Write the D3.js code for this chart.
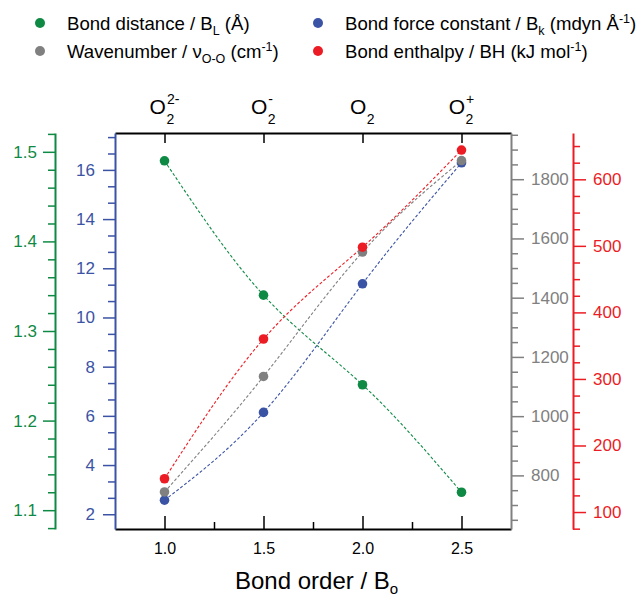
<!DOCTYPE html>
<html>
<head>
<meta charset="utf-8">
<script src="https://cdn.jsdelivr.net/npm/d3@7"></script>
<style>
  html, body { margin: 0; padding: 0; background: #fff; }
  svg { display: block; font-family: "Liberation Sans", Arial, sans-serif; }
</style>
</head>
<body>
<svg id="chart" width="640" height="599"></svg>
<script>
// ---- data ----
const bondOrder = [1.0, 1.5, 2.0, 2.5];
const speciesBase = ["O", "O", "O", "O"];
const speciesSub = ["2", "2", "2", "2"];
const speciesSup = ["2-", "-", "", "+"];
const bondDistance = [1.49, 1.34, 1.24, 1.12];      // Å
const forceConstant = [2.57, 6.14, 11.37, 16.29];   // mdyn/Å
const wavenumber = [744, 1134, 1554, 1863];         // cm-1
const bondEnthalpy = [150, 360, 498, 644];          // kJ/mol

const xTicks = [1.0, 1.5, 2.0, 2.5];
const xMinor = [1.25, 1.75, 2.25];
const greenTicks = [1.1, 1.2, 1.3, 1.4, 1.5];
const blueTicks = [2, 4, 6, 8, 10, 12, 14, 16];
const greyTicks = [800, 1000, 1200, 1400, 1600, 1800];
const redTicks = [100, 200, 300, 400, 500, 600];

const C = { green: "#0f8a45", blue: "#3b53a4", grey: "#808080", red: "#ec1c24", black: "#000" };

const svg = d3.select("#chart");
const L = 115, R = 511, T = 133, B = 529;

const x = d3.scaleLinear().domain([0.75, 2.75]).range([L, R]);
const yGreen = d3.scaleLinear().domain([1.079, 1.521]).range([B, T]);
const yBlue = d3.scaleLinear().domain([1.4, 17.5]).range([B, T]);
const yGrey = d3.scaleLinear().domain([619, 1956]).range([B, T]);
const yRed = d3.scaleLinear().domain([74.5, 669.6]).range([B, T]);

function range(a, b, step) { const out = []; for (let v = a; v <= b + 1e-9; v += step) out.push(+v.toFixed(6)); return out; }

function styleAxis(g, color, fs) {
  g.select(".domain").attr("stroke", color).attr("stroke-width", 2);
  g.selectAll(".tick line").attr("stroke", color).attr("stroke-width", 1.5);
  g.selectAll(".tick text").attr("fill", color).style("font-size", fs + "px").style("font-family", '"Liberation Sans", Arial, sans-serif');
}

// ---- bottom axis ----
const gB = svg.append("g").attr("transform", `translate(0,${B})`)
  .call(d3.axisBottom(x).tickValues(xTicks).tickFormat(d3.format(".1f")).tickSize(-13).tickSizeOuter(0).tickPadding(14));
styleAxis(gB, C.black, 16);
svg.append("g").attr("transform", `translate(0,${B})`)
  .call(d3.axisBottom(x).tickValues(xMinor).tickFormat("").tickSize(-7).tickSizeOuter(0))
  .call(g => { g.select(".domain").remove(); g.selectAll(".tick line").attr("stroke", C.black).attr("stroke-width", 1.5); });

// ---- top axis ----
const gT = svg.append("g").attr("transform", `translate(0,${T})`)
  .call(d3.axisTop(x).tickValues(xTicks).tickFormat("").tickSize(-10).tickSizeOuter(0));
styleAxis(gT, C.black, 16);

// ---- blue axis (left inner) ----
const gBl = svg.append("g").attr("transform", `translate(${L},0)`)
  .call(d3.axisLeft(yBlue).tickValues(blueTicks).tickFormat(d3.format("d")).tickSize(12).tickSizeOuter(0).tickPadding(8));
styleAxis(gBl, C.blue, 17);
svg.append("g").attr("transform", `translate(${L},0)`)
  .call(d3.axisLeft(yBlue).tickValues(range(2, 17.5, 2 / 3).filter(v => Math.abs(v - Math.round(v / 2) * 2) > 0.01)).tickFormat("").tickSize(7).tickSizeOuter(0))
  .call(g => { g.select(".domain").remove(); g.selectAll(".tick line").attr("stroke", C.blue).attr("stroke-width", 1.5); });

// ---- green axis (left outer) ----
const GX = 55;
const gG = svg.append("g").attr("transform", `translate(${GX},0)`)
  .call(d3.axisLeft(yGreen).tickValues(greenTicks).tickFormat(d3.format(".1f")).tickSize(12).tickSizeOuter(0).tickPadding(6));
styleAxis(gG, C.green, 17);
svg.append("g").attr("transform", `translate(${GX},0)`)
  .call(d3.axisLeft(yGreen).tickValues(range(1.08, 1.52, 0.02).filter(v => Math.abs(v * 10 - Math.round(v * 10)) > 0.01)).tickFormat("").tickSize(7).tickSizeOuter(0))
  .call(g => { g.select(".domain").remove(); g.selectAll(".tick line").attr("stroke", C.green).attr("stroke-width", 1.5); });

// ---- grey axis (right inner) ----
const gGr = svg.append("g").attr("transform", `translate(${R},0)`)
  .call(d3.axisRight(yGrey).tickValues(greyTicks).tickFormat(d3.format("d")).tickSize(13).tickSizeOuter(0).tickPadding(7));
styleAxis(gGr, C.grey, 17);
svg.append("g").attr("transform", `translate(${R},0)`)
  .call(d3.axisRight(yGrey).tickValues(range(650, 1950, 50).filter(v => v % 200 !== 0)).tickFormat("").tickSize(7).tickSizeOuter(0))
  .call(g => { g.select(".domain").remove(); g.selectAll(".tick line").attr("stroke", C.grey).attr("stroke-width", 1.5); });

// ---- red axis (right outer) ----
const RX = 573;
const gR = svg.append("g").attr("transform", `translate(${RX},0)`)
  .call(d3.axisRight(yRed).tickValues(redTicks).tickFormat(d3.format("d")).tickSize(13).tickSizeOuter(0).tickPadding(7));
styleAxis(gR, C.red, 17);
svg.append("g").attr("transform", `translate(${RX},0)`)
  .call(d3.axisRight(yRed).tickValues(range(75, 650, 25).filter(v => v % 100 !== 0)).tickFormat("").tickSize(7).tickSizeOuter(0))
  .call(g => { g.select(".domain").remove(); g.selectAll(".tick line").attr("stroke", C.red).attr("stroke-width", 1.5); });

// ---- species labels on top ----
bondOrder.forEach((bo, i) => {
  const g = svg.append("g");
  const base = g.append("text").attr("y", 114).style("font-size", "21px").text(speciesBase[i]);
  const wO = base.node().getComputedTextLength();
  const sub = g.append("text").attr("x", wO + 0.5).attr("y", 124).style("font-size", "14px").text(speciesSub[i]);
  const sup = g.append("text").attr("x", wO + 1).attr("y", 104).style("font-size", "14px").text(speciesSup[i]);
  const w = wO + 1 + Math.max(sub.node().getComputedTextLength(), speciesSup[i] ? sup.node().getComputedTextLength() : 0);
  g.attr("transform", `translate(${x(bo) - w / 2},0)`);
});

// ---- series ----
const series = [
  { vals: bondDistance, y: yGreen, color: C.green },
  { vals: forceConstant, y: yBlue, color: C.blue },
  { vals: wavenumber, y: yGrey, color: C.grey },
  { vals: bondEnthalpy, y: yRed, color: C.red }
];
series.forEach(s => {
  const line = d3.line().x((d, i) => x(bondOrder[i])).y(d => s.y(d)).curve(d3.curveNatural);
  svg.append("path").attr("d", line(s.vals)).attr("fill", "none")
    .attr("stroke", s.color).attr("stroke-width", 1.1).attr("stroke-dasharray", "3,2");
});
series.forEach(s => {
  svg.append("g").selectAll("circle").data(s.vals).join("circle")
    .attr("cx", (d, i) => x(bondOrder[i])).attr("cy", d => s.y(d)).attr("r", 4.8)
    .attr("fill", s.color);
});

// ---- x axis title ----
const title = svg.append("text").attr("x", 235).attr("y", 589).style("font-size", "24px");
title.append("tspan").text("Bond order / B");
title.append("tspan").attr("dy", 5).style("font-size", "15px").text("o");

// ---- legend ----
const legend = [
  { x: 40, y: 23, color: C.green, parts: [["Bond distance / B", 0], ["L", 1], [" (Å)", 0]] },
  { x: 40, y: 51, color: C.grey, parts: [["Wavenumber / ν", 0], ["O-O", 1], [" (cm", 0], ["-1", 2], [")", 0]] },
  { x: 318, y: 23, color: C.blue, parts: [["Bond force constant / B", 0], ["k", 1], [" (mdyn Å", 0], ["-1", 2], [")", 0]] },
  { x: 318, y: 51, color: C.red, parts: [["Bond enthalpy / BH (kJ mol", 0], ["-1", 2], [")", 0]] }
];
legend.forEach(it => {
  svg.append("circle").attr("cx", it.x).attr("cy", it.y).attr("r", 5).attr("fill", it.color);
  const t = svg.append("text").attr("x", it.x + 27).attr("y", it.y + 7).style("font-size", "18.6px");
  let shift = 0;
  it.parts.forEach(([s, k]) => {
    const target = k === 1 ? 5 : k === 2 ? -7 : 0;
    const ts = t.append("tspan").attr("dy", target - shift).text(s);
    if (k) ts.style("font-size", "12.5px");
    shift = target;
  });
});
</script>
</body>
</html>
